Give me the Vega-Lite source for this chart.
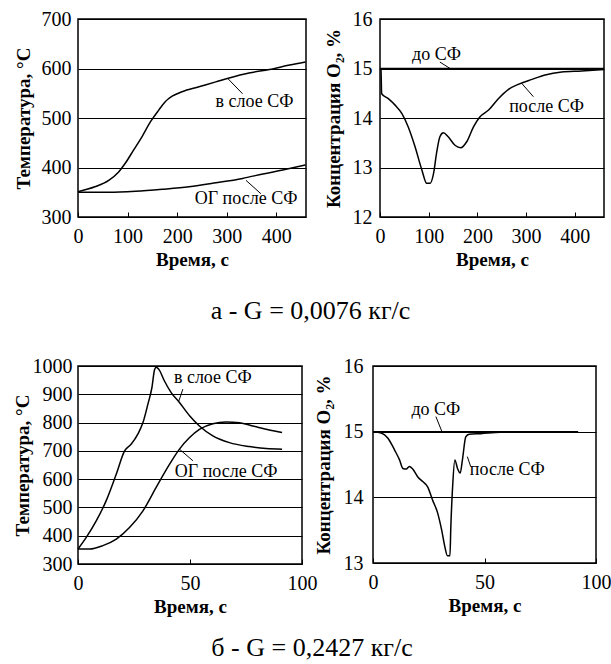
{
  "$schema": "https://vega.github.io/schema/vega-lite/v6.json",
  "background": "white",
  "padding": {"left": 12, "top": 8, "right": 5, "bottom": 3},
  "config": {
    "font": "Times New Roman, Liberation Serif, DejaVu Serif, serif",
    "view": {"stroke": "black", "strokeWidth": 1.5},
    "axis": {
      "labelFont": "Times New Roman, Liberation Serif, DejaVu Serif, serif", "labelFontSize": 20, "labelColor": "black",
      "titleFont": "Times New Roman, Liberation Serif, DejaVu Serif, serif", "titleFontSize": 19, "titleFontWeight": "bold", "titleColor": "black",
      "domain": false, "tickColor": "black", "gridColor": "black", "gridOpacity": 1, "gridWidth": 1,
      "labelFlush": false, "labelOverlap": false, "tickCount": 12
    },
    "axisX": {"grid": false, "tickSize": -5, "tickWidth": 1, "labelPadding": 14, "titlePadding": 4},
    "axisY": {"grid": true, "ticks": false, "labelPadding": 7, "titlePadding": 8},
    "text": {"font": "Times New Roman, Liberation Serif, DejaVu Serif, serif", "fontSize": 18, "color": "black"},
    "line": {"color": "black", "strokeWidth": 1.5},
    "rule": {"color": "black", "strokeWidth": 1},
    "title": {"font": "Times New Roman, Liberation Serif, DejaVu Serif, serif", "fontSize": 26, "fontWeight": "normal", "color": "black"}
  },
  "spacing": 31,
  "vconcat": [
    {
      "title": {"text": "а - G = 0,0076 кг/с", "orient": "bottom", "anchor": "middle", "frame": "bounds", "offset": 28, "font": "Times New Roman, Liberation Serif, DejaVu Serif, serif", "fontSize": 26, "fontWeight": "normal"},
      "bounds": "flush",
      "spacing": 74,
      "hconcat": [
        {
          "width": 228, "height": 198,
          "layer": [
            {
              "data": {"values": [
                {"t": 0, "v": 351, "s": "в слое СФ"}, {"t": 34, "v": 361, "s": "в слое СФ"}, {"t": 62, "v": 374, "s": "в слое СФ"},
                {"t": 82, "v": 391, "s": "в слое СФ"}, {"t": 95, "v": 408, "s": "в слое СФ"}, {"t": 112, "v": 435, "s": "в слое СФ"},
                {"t": 129, "v": 462, "s": "в слое СФ"}, {"t": 146, "v": 492, "s": "в слое СФ"}, {"t": 163, "v": 516, "s": "в слое СФ"},
                {"t": 176, "v": 533, "s": "в слое СФ"}, {"t": 190, "v": 544, "s": "в слое СФ"}, {"t": 210, "v": 553, "s": "в слое СФ"},
                {"t": 244, "v": 563, "s": "в слое СФ"}, {"t": 278, "v": 573, "s": "в слое СФ"}, {"t": 305, "v": 581, "s": "в слое СФ"},
                {"t": 345, "v": 591, "s": "в слое СФ"}, {"t": 386, "v": 598, "s": "в слое СФ"}, {"t": 427, "v": 607, "s": "в слое СФ"},
                {"t": 459, "v": 613, "s": "в слое СФ"},
                {"t": 0, "v": 350, "s": "ОГ после СФ"}, {"t": 62, "v": 350, "s": "ОГ после СФ"}, {"t": 116, "v": 352, "s": "ОГ после СФ"},
                {"t": 170, "v": 356, "s": "ОГ после СФ"}, {"t": 224, "v": 361, "s": "ОГ после СФ"}, {"t": 278, "v": 369, "s": "ОГ после СФ"},
                {"t": 332, "v": 378, "s": "ОГ после СФ"}, {"t": 373, "v": 387, "s": "ОГ после СФ"}, {"t": 413, "v": 395, "s": "ОГ после СФ"},
                {"t": 459, "v": 405, "s": "ОГ после СФ"}
              ]},
              "mark": {"type": "line", "interpolate": "monotone"},
              "encoding": {
                "x": {"field": "t", "type": "quantitative", "scale": {"domain": [0, 460], "nice": false}, "axis": {"values": [0, 100, 200, 300, 400], "tickCount": 12, "format": "d", "labelOverlap": false, "title": "Время, с"}},
                "y": {"field": "v", "type": "quantitative", "scale": {"domain": [300, 700], "nice": false, "zero": false}, "axis": {"values": [300, 400, 500, 600, 700], "tickCount": 12, "format": "d", "labelOverlap": false, "title": "Температура, °С"}},
                "detail": {"field": "s"}
              }
            },
            {
              "data": {"values": [
                {"x1": 302, "y1": 580, "x2": 332, "y2": 549},
                {"x1": 339, "y1": 374, "x2": 369, "y2": 347}
              ]},
              "mark": {"type": "rule"},
              "encoding": {
                "x": {"field": "x1", "type": "quantitative"}, "y": {"field": "y1", "type": "quantitative"},
                "x2": {"field": "x2"}, "y2": {"field": "y2"}
              }
            },
            {
              "data": {"values": [
                {"x": 356, "y": 533, "label": "в слое СФ"},
                {"x": 339, "y": 337, "label": "ОГ после СФ"}
              ]},
              "mark": {"type": "text", "align": "center", "baseline": "middle", "font": "Times New Roman, Liberation Serif, DejaVu Serif, serif", "fontSize": 18},
              "encoding": {
                "x": {"field": "x", "type": "quantitative"}, "y": {"field": "y", "type": "quantitative"},
                "text": {"field": "label"}
              }
            }
          ]
        },
        {
          "width": 224, "height": 198,
          "layer": [
            {
              "data": {"values": [
                {"t": 0, "v": 15.0, "s": "после СФ"}, {"t": 2, "v": 14.97, "s": "после СФ"}, {"t": 3.4, "v": 14.49, "s": "после СФ"},
                {"t": 17, "v": 14.39, "s": "после СФ"}, {"t": 31, "v": 14.26, "s": "после СФ"}, {"t": 45, "v": 14.09, "s": "после СФ"},
                {"t": 58, "v": 13.82, "s": "после СФ"}, {"t": 72, "v": 13.42, "s": "после СФ"}, {"t": 86, "v": 12.95, "s": "после СФ"},
                {"t": 96, "v": 12.68, "s": "после СФ"}, {"t": 103, "v": 12.68, "s": "после СФ"}, {"t": 110, "v": 12.88, "s": "после СФ"},
                {"t": 116, "v": 13.28, "s": "после СФ"}, {"t": 123, "v": 13.62, "s": "после СФ"}, {"t": 130, "v": 13.70, "s": "после СФ"},
                {"t": 140, "v": 13.62, "s": "после СФ"}, {"t": 154, "v": 13.45, "s": "после СФ"}, {"t": 166, "v": 13.40, "s": "после СФ"},
                {"t": 178, "v": 13.52, "s": "после СФ"}, {"t": 192, "v": 13.82, "s": "после СФ"}, {"t": 205, "v": 14.02, "s": "после СФ"},
                {"t": 223, "v": 14.16, "s": "после СФ"}, {"t": 243, "v": 14.39, "s": "после СФ"}, {"t": 264, "v": 14.58, "s": "после СФ"},
                {"t": 284, "v": 14.68, "s": "после СФ"}, {"t": 312, "v": 14.78, "s": "после СФ"}, {"t": 339, "v": 14.87, "s": "после СФ"},
                {"t": 373, "v": 14.93, "s": "после СФ"}, {"t": 414, "v": 14.95, "s": "после СФ"}, {"t": 460, "v": 14.98, "s": "после СФ"},
                {"t": 0, "v": 15.0, "s": "до СФ"}, {"t": 460, "v": 15.0, "s": "до СФ"}
              ]},
              "mark": {"type": "line", "interpolate": "monotone"},
              "encoding": {
                "x": {"field": "t", "type": "quantitative", "scale": {"domain": [0, 460], "nice": false}, "axis": {"values": [0, 100, 200, 300, 400], "tickCount": 12, "format": "d", "labelOverlap": false, "title": "Время, с"}},
                "y": {"field": "v", "type": "quantitative", "scale": {"domain": [12, 16], "nice": false, "zero": false}, "axis": {"values": [12, 13, 14, 15, 16], "tickCount": 12, "format": "d", "labelOverlap": false, "title": "Концентрация O₂, %", "labelPadding": 8, "titlePadding": 9}},
                "detail": {"field": "s"}
              }
            },
            {
              "data": {"values": [
                {"x1": 123, "y1": 15.13, "x2": 144, "y2": 15.0},
                {"x1": 291, "y1": 14.70, "x2": 315, "y2": 14.43}
              ]},
              "mark": {"type": "rule"},
              "encoding": {
                "x": {"field": "x1", "type": "quantitative"}, "y": {"field": "y1", "type": "quantitative"},
                "x2": {"field": "x2"}, "y2": {"field": "y2"}
              }
            },
            {
              "data": {"values": [
                {"x": 116, "y": 15.27, "label": "до СФ"},
                {"x": 342, "y": 14.23, "label": "после СФ"}
              ]},
              "mark": {"type": "text", "align": "center", "baseline": "middle", "font": "Times New Roman, Liberation Serif, DejaVu Serif, serif", "fontSize": 18},
              "encoding": {
                "x": {"field": "x", "type": "quantitative"}, "y": {"field": "y", "type": "quantitative"},
                "text": {"field": "label"}
              }
            }
          ]
        }
      ]
    },
    {
      "title": {"text": "б - G = 0,2427 кг/с", "orient": "bottom", "anchor": "middle", "frame": "bounds", "offset": 18, "font": "Times New Roman, Liberation Serif, DejaVu Serif, serif", "fontSize": 26, "fontWeight": "normal"},
      "bounds": "flush",
      "spacing": 71,
      "hconcat": [
        {
          "width": 224, "height": 198,
          "layer": [
            {
              "data": {"values": [
                {"t": 0, "v": 353, "s": "в слое СФ"}, {"t": 3.7, "v": 394, "s": "в слое СФ"}, {"t": 8.2, "v": 453, "s": "в слое СФ"},
                {"t": 12.6, "v": 524, "s": "в слое СФ"}, {"t": 17.1, "v": 618, "s": "в слое СФ"}, {"t": 20.8, "v": 700, "s": "в слое СФ"},
                {"t": 23.8, "v": 724, "s": "в слое СФ"}, {"t": 26.7, "v": 759, "s": "в слое СФ"}, {"t": 29.0, "v": 800, "s": "в слое СФ"},
                {"t": 31.2, "v": 865, "s": "в слое СФ"}, {"t": 33.0, "v": 924, "s": "в слое СФ"}, {"t": 34.2, "v": 988, "s": "в слое СФ"},
                {"t": 34.9, "v": 996, "s": "в слое СФ"}, {"t": 36.1, "v": 988, "s": "в слое СФ"}, {"t": 38.6, "v": 947, "s": "в слое СФ"},
                {"t": 41.6, "v": 906, "s": "в слое СФ"}, {"t": 45.3, "v": 871, "s": "в слое СФ"}, {"t": 49.8, "v": 824, "s": "в слое СФ"},
                {"t": 54.2, "v": 788, "s": "в слое СФ"}, {"t": 60.2, "v": 753, "s": "в слое СФ"}, {"t": 67.6, "v": 729, "s": "в слое СФ"},
                {"t": 76.5, "v": 715, "s": "в слое СФ"}, {"t": 84.0, "v": 708, "s": "в слое СФ"}, {"t": 91.1, "v": 706, "s": "в слое СФ"},
                {"t": 0, "v": 353, "s": "ОГ после СФ"}, {"t": 5.2, "v": 353, "s": "ОГ после СФ"}, {"t": 11.1, "v": 365, "s": "ОГ после СФ"},
                {"t": 17.1, "v": 388, "s": "ОГ после СФ"}, {"t": 23.0, "v": 429, "s": "ОГ после СФ"}, {"t": 29.0, "v": 488, "s": "ОГ после СФ"},
                {"t": 34.9, "v": 571, "s": "ОГ после СФ"}, {"t": 40.9, "v": 653, "s": "ОГ после СФ"}, {"t": 45.3, "v": 706, "s": "ОГ после СФ"},
                {"t": 49.8, "v": 747, "s": "ОГ после СФ"}, {"t": 54.2, "v": 776, "s": "ОГ после СФ"}, {"t": 60.2, "v": 796, "s": "ОГ после СФ"},
                {"t": 66.1, "v": 802, "s": "ОГ после СФ"}, {"t": 72.1, "v": 799, "s": "ОГ после СФ"}, {"t": 78.0, "v": 788, "s": "ОГ после СФ"},
                {"t": 85.4, "v": 774, "s": "ОГ после СФ"}, {"t": 91.1, "v": 765, "s": "ОГ после СФ"}
              ]},
              "mark": {"type": "line", "interpolate": "monotone"},
              "encoding": {
                "x": {"field": "t", "type": "quantitative", "scale": {"domain": [0, 100], "nice": false}, "axis": {"values": [0, 50, 100], "tickCount": 12, "format": "d", "labelOverlap": false, "title": "Время, с"}},
                "y": {"field": "v", "type": "quantitative", "scale": {"domain": [300, 1000], "nice": false, "zero": false}, "axis": {"values": [300, 400, 500, 600, 700, 800, 900, 1000], "tickCount": 12, "format": "d", "labelOverlap": false, "title": "Температура, °С", "labelPadding": 6, "titlePadding": 0}},
                "detail": {"field": "s"}
              }
            },
            {
              "data": {"values": [
                {"x1": 45.0, "y1": 876, "x2": 46.8, "y2": 918},
                {"x1": 45.3, "y1": 706, "x2": 51.3, "y2": 665}
              ]},
              "mark": {"type": "rule"},
              "encoding": {
                "x": {"field": "x1", "type": "quantitative"}, "y": {"field": "y1", "type": "quantitative"},
                "x2": {"field": "x2"}, "y2": {"field": "y2"}
              }
            },
            {
              "data": {"values": [
                {"x": 60.2, "y": 959, "label": "в слое СФ"},
                {"x": 66.1, "y": 624, "label": "ОГ после СФ"}
              ]},
              "mark": {"type": "text", "align": "center", "baseline": "middle", "font": "Times New Roman, Liberation Serif, DejaVu Serif, serif", "fontSize": 18},
              "encoding": {
                "x": {"field": "x", "type": "quantitative"}, "y": {"field": "y", "type": "quantitative"},
                "text": {"field": "label"}
              }
            }
          ]
        },
        {
          "width": 223, "height": 197,
          "layer": [
            {
              "data": {"values": [
                {"t": 0, "v": 15.0, "s": "после СФ"}, {"t": 3.7, "v": 14.98, "s": "после СФ"}, {"t": 6.7, "v": 14.90, "s": "после СФ"},
                {"t": 9.7, "v": 14.72, "s": "после СФ"}, {"t": 11.9, "v": 14.57, "s": "после СФ"}, {"t": 13.4, "v": 14.44, "s": "после СФ"},
                {"t": 14.9, "v": 14.43, "s": "после СФ"}, {"t": 16.3, "v": 14.47, "s": "после СФ"}, {"t": 17.8, "v": 14.43, "s": "после СФ"},
                {"t": 20.1, "v": 14.31, "s": "после СФ"}, {"t": 22.3, "v": 14.24, "s": "после СФ"}, {"t": 24.5, "v": 14.16, "s": "после СФ"},
                {"t": 26.7, "v": 13.96, "s": "после СФ"}, {"t": 29.0, "v": 13.76, "s": "после СФ"}, {"t": 30.8, "v": 13.50, "s": "после СФ"},
                {"t": 32.2, "v": 13.25, "s": "после СФ"}, {"t": 33.4, "v": 13.11, "s": "после СФ"}, {"t": 34.5, "v": 13.11, "s": "после СФ"},
                {"t": 34.9, "v": 13.55, "s": "после СФ"}, {"t": 35.7, "v": 14.16, "s": "после СФ"}, {"t": 36.7, "v": 14.57, "s": "после СФ"},
                {"t": 37.9, "v": 14.44, "s": "после СФ"}, {"t": 39.1, "v": 14.37, "s": "после СФ"}, {"t": 40.1, "v": 14.57, "s": "после СФ"},
                {"t": 41.6, "v": 14.92, "s": "после СФ"}, {"t": 43.1, "v": 14.96, "s": "после СФ"}, {"t": 48.3, "v": 14.97, "s": "после СФ"},
                {"t": 57.2, "v": 14.99, "s": "после СФ"}, {"t": 91.4, "v": 15.0, "s": "после СФ"},
                {"t": 0, "v": 15.0, "s": "до СФ"}, {"t": 92, "v": 15.0, "s": "до СФ"}
              ]},
              "mark": {"type": "line", "interpolate": "monotone"},
              "encoding": {
                "x": {"field": "t", "type": "quantitative", "scale": {"domain": [0, 100], "nice": false}, "axis": {"values": [0, 50, 100], "tickCount": 12, "format": "d", "labelOverlap": false, "title": "Время, с"}},
                "y": {"field": "v", "type": "quantitative", "scale": {"domain": [13, 16], "nice": false, "zero": false}, "axis": {"values": [13, 14, 15, 16], "tickCount": 12, "format": "d", "labelOverlap": false, "title": "Концентрация O₂, %", "labelPadding": 10, "titlePadding": 10}},
                "detail": {"field": "s"}
              }
            },
            {
              "data": {"values": [
                {"x1": 28.2, "y1": 15.23, "x2": 30.8, "y2": 15.01},
                {"x1": 42.3, "y1": 14.62, "x2": 43.8, "y2": 14.47}
              ]},
              "mark": {"type": "rule"},
              "encoding": {
                "x": {"field": "x1", "type": "quantitative"}, "y": {"field": "y1", "type": "quantitative"},
                "x2": {"field": "x2"}, "y2": {"field": "y2"}
              }
            },
            {
              "data": {"values": [
                {"x": 28.2, "y": 15.33, "label": "до СФ"},
                {"x": 60.2, "y": 14.42, "label": "после СФ"}
              ]},
              "mark": {"type": "text", "align": "center", "baseline": "middle", "font": "Times New Roman, Liberation Serif, DejaVu Serif, serif", "fontSize": 18},
              "encoding": {
                "x": {"field": "x", "type": "quantitative"}, "y": {"field": "y", "type": "quantitative"},
                "text": {"field": "label"}
              }
            }
          ]
        }
      ]
    }
  ]
}
